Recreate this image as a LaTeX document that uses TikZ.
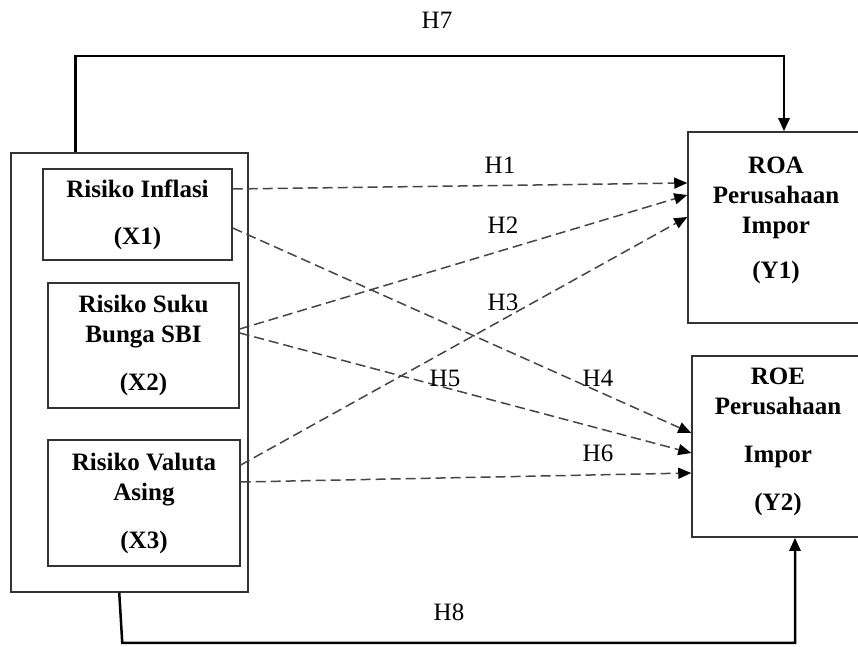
\documentclass[tikz,border=0pt]{standalone}
\usepackage{fontspec}
\setmainfont{Liberation Serif}
\usepackage{tikz}
\usetikzlibrary{positioning,arrows.meta,calc}
\definecolor{mBoxGray}{HTML}{333333}
\definecolor{mDashGray}{HTML}{454545}
\tikzset{
 vartext/.style={align=center, font=\fontsize{12.5}{15}\selectfont\bfseries, text=black},
 varbox/.style={vartext, draw=mBoxGray, line width=0.75pt, inner sep=0pt},
 hyplabel/.style={font=\fontsize{12.5}{14}\selectfont, text=black},
 hypdash/.style={-{Triangle[length=6.5pt,width=5.5pt,color=black]}, draw=mDashGray, line width=0.75pt, dash pattern=on 5pt off 2.5pt},
 hypsolid/.style={-{Triangle[length=6.5pt,width=5.5pt]}, draw=black, line width=1.25pt},
}

\begin{document}
\begin{tikzpicture}[x=0.5pt,y=-0.5pt]
\useasboundingbox (0,0) rectangle (858,647);
% independent variables
\node[varbox, minimum width=118.5pt, minimum height=219.5pt] (grp) at (129.5,372.5) {};
\node[varbox, minimum width=94.5pt, minimum height=45.5pt] (x1) at (137.5,214.5) {Risiko Inflasi\\[8.5pt](X1)};
\node[varbox, minimum width=95.5pt, minimum height=62.5pt] (x2) at (143.5,345.5) {Risiko Suku\\Bunga SBI\\[9pt](X2)};
\node[varbox, minimum width=96pt, minimum height=63pt] (x3) at (144,503) {Risiko Valuta\\Asing\\[9pt](X3)};
% dependent variables
\node[varbox, minimum width=86pt, minimum height=95.5pt] (y1) at (774,227.5) {};
\node[vartext] (y1txt) at (776,220) {ROA\\Perusahaan\\Impor\\[7.5pt](Y1)};
\node[varbox, minimum width=84pt, minimum height=90.5pt] (y2) at (776,446.5) {};
\node[vartext] (y2txt) at (778,442) {ROE\\Perusahaan\\[9pt]Impor\\[9pt](Y2)};

% partial hypotheses
\draw[hypdash] ([yshift=12.75pt]x1.east) -- ([yshift=22.25pt]y1.west);
\draw[hypdash] ([yshift=8.25pt]x2.east) -- ([yshift=16.25pt]y1.west);
\draw[hypdash] ([yshift=19pt]x3.east) -- ([yshift=5.25pt]y1.west);
\draw[hypdash] ([yshift=-6.75pt]x1.east) -- ([yshift=6.75pt]y2.west);
\draw[hypdash] ([yshift=6.25pt]x2.east) -- ([yshift=-3.25pt]y2.west);
\draw[hypdash] ([yshift=10.5pt]x3.east) -- ([yshift=-13.25pt]y2.west);
% simultaneous hypotheses
\draw[hypsolid] ([xshift=32.5pt]grp.north west) -- ++(0,48pt) -| ([xshift=5pt]y1.north);
\draw[hypsolid] ([xshift=54.5pt]grp.south west) -- ++(1.5pt,-25pt) -| ([xshift=9.5pt]y2.south);

\node[hyplabel] (h1) at (500,165) {H1};
\node[hyplabel] (h2) at (503,225) {H2};
\node[hyplabel] (h3) at (503,302) {H3};
\node[hyplabel] (h4) at (598,378) {H4};
\node[hyplabel] (h5) at (445,378) {H5};
\node[hyplabel] (h6) at (598,453) {H6};
\node[hyplabel] (h7) at (437,20) {H7};
\node[hyplabel] (h8) at (449,612) {H8};
\end{tikzpicture}
\end{document}
